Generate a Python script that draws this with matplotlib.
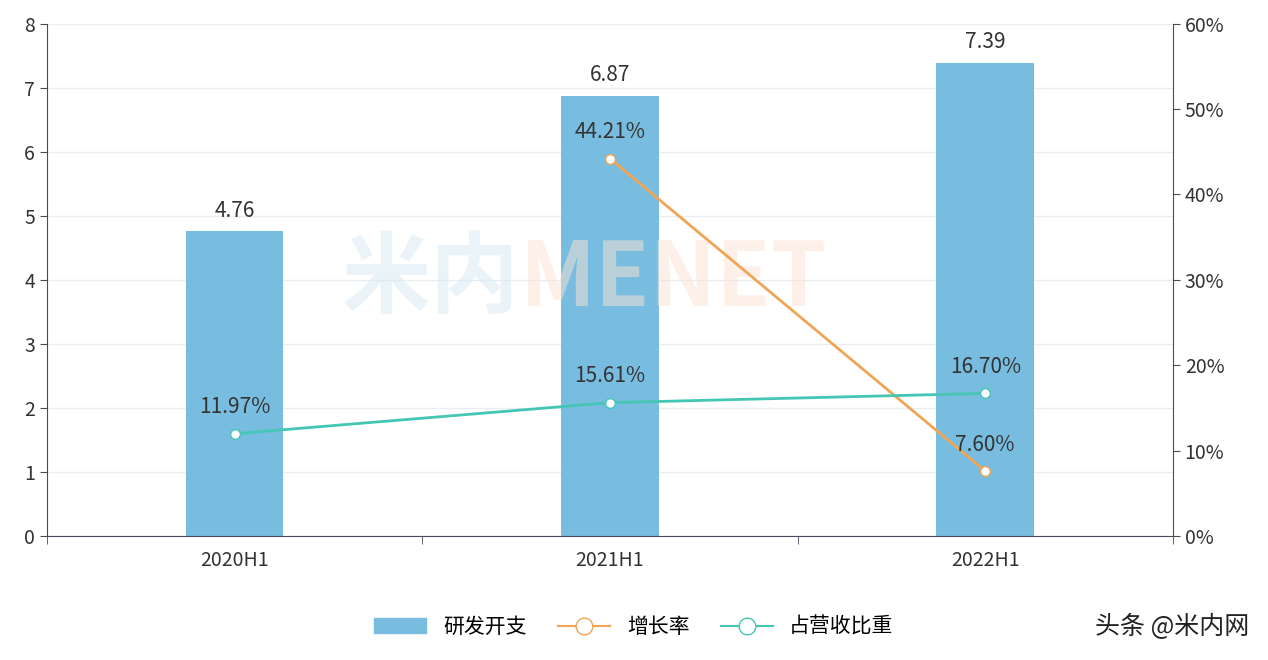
import numpy as np
import matplotlib
matplotlib.use("Agg")
import matplotlib.pyplot as plt
from matplotlib.patches import Patch
from matplotlib.lines import Line2D

plt.rcParams['font.family'] = ['Noto Sans CJK SC', 'DejaVu Sans']

categories = ["2020H1", "2021H1", "2022H1"]
rd_spend = [4.76, 6.87, 7.39]
growth = [None, 44.21, 7.60]
share = [11.97, 15.61, 16.70]

bar_color = "#78bde0"
orange = "#f0a555"
teal = "#45c6b4"
axis_color = "#4a4a5a"

fig = plt.figure(figsize=(12.68, 6.6), dpi=100)
ax = fig.add_axes([0.037, 0.188, 0.888, 0.776])
x = np.arange(len(categories))
ax.bar(x, rd_spend, width=0.26, color=bar_color, zorder=2)
for xi, v in zip(x, rd_spend):
    ax.text(xi, v + 0.15, f"{v:.2f}", ha="center", va="bottom", fontsize=15, color="#333333")
ax.set_xlim(-0.5, 2.5)
ax.set_ylim(0, 8)
ax.set_yticks(range(9))
ax.set_xticks(x)
ax.set_xticklabels(categories)
ax.set_xticks([-0.5, 0.5, 1.5, 2.5], minor=True)
ax.tick_params(axis="x", which="major", length=0, labelsize=14, colors="#333333", pad=10)
ax.tick_params(axis="x", which="minor", length=6, color=axis_color)
ax.tick_params(axis="y", labelsize=14, colors="#333333", color=axis_color, length=5)
ax.grid(axis="y", color="#e8edf2", linewidth=1, zorder=0)
for s in ["top", "right"]:
    ax.spines[s].set_visible(False)
ax.spines["left"].set_color(axis_color)
ax.spines["bottom"].set_color(axis_color)

# watermark
ax.text(0.42, 0.5, "米内", transform=ax.transAxes, fontsize=64, color="#d6e8f3", alpha=0.5,
        ha="right", va="center", fontweight="bold", zorder=2.5)
ax.text(0.42, 0.5, "MENET", transform=ax.transAxes, fontsize=64, color="#fbe3d2", alpha=0.5,
        ha="left", va="center", fontweight="bold", zorder=2.5)

ax2 = ax.twinx()
ax2.set_ylim(0, 60)
ax2.set_yticks(range(0, 61, 10))
ax2.set_yticklabels([f"{v}%" for v in range(0, 61, 10)])
ax2.tick_params(axis="y", labelsize=14, colors="#333333", color=axis_color, length=5)
for s in ["top", "left", "bottom"]:
    ax2.spines[s].set_visible(False)
ax2.spines["right"].set_color(axis_color)

gx = [xi for xi, g in zip(x, growth) if g is not None]
gy = [g for g in growth if g is not None]
ax2.plot(gx, gy, color=orange, linewidth=2, marker="o", markersize=7,
         markerfacecolor="white", markeredgecolor=orange, zorder=3)
ax2.plot(x, share, color=teal, linewidth=2, marker="o", markersize=7,
         markerfacecolor="white", markeredgecolor=teal, zorder=3)
for xi, v in zip(gx, gy):
    ax2.text(xi, v + 1.8, f"{v:.2f}%", ha="center", va="bottom", fontsize=15, color="#333333")
for xi, v in zip(x, share):
    ax2.text(xi, v + 1.8, f"{v:.2f}%", ha="center", va="bottom", fontsize=15, color="#333333")

handles = [Patch(color=bar_color),
           Line2D([], [], color=orange, marker="o", markersize=12, markerfacecolor="white", linewidth=1.5),
           Line2D([], [], color=teal, marker="o", markersize=12, markerfacecolor="white", linewidth=1.5)]
fig.legend(handles, ["研发开支", "增长率", "占营收比重"], loc="center", bbox_to_anchor=(0.5, 0.05),
           ncol=3, frameon=False, fontsize=15, handlelength=2.5, columnspacing=1.5)
fig.text(0.985, 0.05, "头条 @米内网", fontsize=18, color="#222222", ha="right", va="center")

fig.savefig("out.png", dpi=100)
